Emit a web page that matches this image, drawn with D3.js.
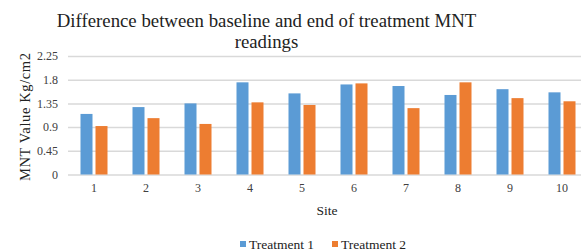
<!DOCTYPE html>
<html lang="en">
<head>
<meta charset="utf-8">
<title>MNT readings</title>
<script src="https://d3js.org/d3.v7.min.js"></script>
<style>
  body { margin: 0; background: #fff; }
  svg text { font-family: "Liberation Serif", "DejaVu Serif", serif; fill: #222; }
  .tick text { font-size: 12px; fill: #404040; }
  .domain { display: none; }
</style>
</head>
<body>
<script>
var sites = ["1", "2", "3", "4", "5", "6", "7", "8", "9", "10"];
var treatment1 = [1.15, 1.28, 1.35, 1.75, 1.54, 1.71, 1.68, 1.51, 1.62, 1.56];
var treatment2 = [0.92, 1.07, 0.96, 1.37, 1.32, 1.73, 1.26, 1.75, 1.45, 1.39];
var yTicks = [0, 0.45, 0.9, 1.35, 1.8, 2.25];
var seriesNames = ["Treatment 1", "Treatment 2"];
var colors = ["#5b9bd5", "#ed7d31"];

var w = 581, h = 252;
var padL = 68, padR = 588, padT = 56, padB = 174.5;

var svg = d3.select("body").append("svg").attr("width", w).attr("height", h);

var x = d3.scaleBand().domain(sites).range([padL, padR]);
var y = d3.scaleLinear().domain([0, 2.25]).range([padB, padT]);

// gridlines
svg.append("g")
   .attr("transform", "translate(" + padL + ",0)")
   .call(d3.axisLeft(y).tickValues(yTicks).tickSize(-(padR - padL)).tickPadding(10).tickFormat(function(d) { return d; }))
   .call(function(g) {
       g.selectAll(".tick line").attr("stroke", "#d9d9d9").attr("stroke-width", 1.5);
   });

// bars
var bw = 12, gap = 3;
var rows = sites.map(function(s, i) { return [s, treatment1[i], treatment2[i]]; });
[treatment1, treatment2].forEach(function(vals, k) {
    svg.selectAll(".bar" + k).data(rows).enter().append("rect")
       .attr("x", function(d) {
           var c = x(d[0]) + x.bandwidth() / 2;
           return k === 0 ? c - gap / 2 - bw : c + gap / 2;
       })
       .attr("y", function(d) { return y(d[k + 1]); })
       .attr("width", bw)
       .attr("height", function(d) { return padB - y(d[k + 1]); })
       .attr("fill", colors[k]);
});

// x axis labels
svg.append("g")
   .attr("transform", "translate(0," + padB + ")")
   .call(d3.axisBottom(x).tickSize(0).tickPadding(9));

// titles
svg.append("text").attr("x", 266.5).attr("y", 27).attr("text-anchor", "middle")
   .style("font-size", "18.8px").text("Difference between baseline and end of treatment MNT");
svg.append("text").attr("x", 266.5).attr("y", 48).attr("text-anchor", "middle")
   .style("font-size", "18.8px").text("readings");

svg.append("text").attr("x", 327).attr("y", 215).attr("text-anchor", "middle")
   .style("font-size", "13.5px").text("Site");

svg.append("text")
   .attr("transform", "translate(30,117) rotate(-90)")
   .attr("text-anchor", "middle").style("font-size", "14.5px")
   .attr("textLength", 128).attr("lengthAdjust", "spacing")
   .text("MNT Value Kg/cm2");

// legend
var legX = [240, 332];
seriesNames.forEach(function(n, i) {
    svg.append("rect").attr("x", legX[i]).attr("y", 241).attr("width", 6).attr("height", 6).attr("fill", colors[i]);
    svg.append("text").attr("x", legX[i] + 9).attr("y", 248.5).style("font-size", "13.5px").text(n);
});
</script>
</body>
</html>
